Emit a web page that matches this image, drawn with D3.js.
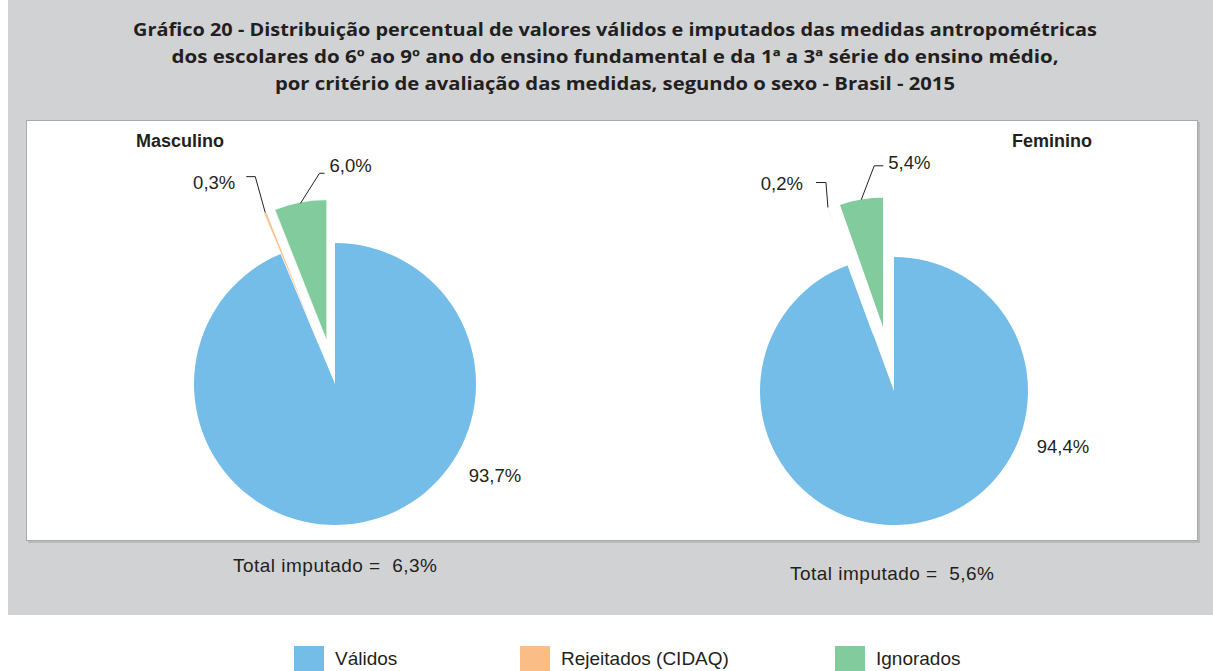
<!DOCTYPE html>
<html>
<head>
<meta charset="utf-8">
<script src="https://cdn.jsdelivr.net/npm/d3@7"></script>
<style>
  html, body { margin: 0; padding: 0; background: #ffffff; }
  svg { display: block; }
</style>
</head>
<body>
<svg id="chart" width="1213" height="671"></svg>
<script>
// ---------- DATA ----------
const categories = ["Válidos", "Rejeitados (CIDAQ)", "Ignorados"];
const masculinoValues = [93.7, 0.3, 6.0];
const femininoValues = [94.4, 0.2, 5.4];
const masculinoLabels = ["93,7%", "0,3%", "6,0%"];
const femininoLabels = ["94,4%", "0,2%", "5,4%"];
const groupNames = ["Masculino", "Feminino"];
const totalLabels = ["Total imputado =  6,3%", "Total imputado =  5,6%"];
const titleLines = [
  "Gráfico 20 - Distribuição percentual de valores válidos e imputados das medidas antropométricas",
  "dos escolares do 6º ao 9º ano do ensino fundamental e da 1ª a 3ª série do ensino médio,",
  "por critério de avaliação das medidas, segundo o sexo - Brasil - 2015"
];

// ---------- STYLE / LAYOUT ----------
const colors = ["#74bde8", "#fbbd86", "#82cb9c"];
const textColor = "#231f20";
const W = 1213, H = 671;

const svg = d3.select("#chart");

// gray background panel
svg.append("rect").attr("x", 8).attr("y", 0).attr("width", W - 8).attr("height", 615)
  .attr("fill", "#d1d2d4");
// inner white panel with shadow
svg.append("rect").attr("x", 28).attr("y", 122).attr("width", 1172).attr("height", 421)
  .attr("fill", "#b9babc");
svg.append("rect").attr("x", 26.5).attr("y", 120.5).attr("width", 1171).attr("height", 420)
  .attr("fill", "#ffffff").attr("stroke", "#a9aaac").attr("stroke-width", 1);

// title
const titleWidths = [964, 887, 680];
svg.append("g").selectAll("text").data(titleLines).join("text")
  .attr("x", 615)
  .attr("y", (d, i) => 36 + i * 27)
  .attr("text-anchor", "middle")
  .attr("font-family", "'Open Sans', 'DejaVu Sans', sans-serif")
  .attr("font-weight", "bold")
  .attr("font-size", 18)
  .attr("fill", textColor)
  .attr("textLength", (d, i) => titleWidths[i])
  .attr("lengthAdjust", "spacingAndGlyphs")
  .text(d => d);

// pies config (layout only)
const pies = [
  {
    values: masculinoValues, labels: masculinoLabels, name: groupNames[0], total: totalLabels[0],
    cx: 335, cy: 384, r: 141, explode: 44, sliceStroke: 0.6,
    nameX: 136, nameY: 147, nameAnchor: "start",
    totalX: 233, totalY: 572,
    bigLabel: { dx: 160, dy: 98 },
    leaders: [null,
      { up: [-10, -36], horiz: -9, side: "left", tdx: -11, tdy: 6 },
      { up: [19, -30], horiz: 5, side: "right", tdx: 5, tdy: -8 }]
  },
  {
    values: femininoValues, labels: femininoLabels, name: groupNames[1], total: totalLabels[1],
    cx: 894, cy: 391, r: 134, explode: 61, sliceStroke: 1.4,
    nameX: 1092, nameY: 147, nameAnchor: "end",
    totalX: 790, totalY: 580,
    bigLabel: { dx: 169, dy: 62 },
    leaders: [null,
      { up: [-2, -25], horiz: -10, side: "left", tdx: -13, tdy: 1 },
      { up: [13, -34], horiz: 9, side: "right", tdx: 5, tdy: -3 }]
  }
];

const pie = d3.pie().sort(null).value(d => d);

pies.forEach(p => {
  const g = svg.append("g").attr("transform", `translate(${p.cx},${p.cy})`);
  const arc = d3.arc().innerRadius(0).outerRadius(p.r);
  const arcs = pie(p.values);

  const offset = (d, i) => {
    if (i === 0) return [0, 0];
    const a = (d.startAngle + d.endAngle) / 2;
    return [Math.sin(a) * p.explode, -Math.cos(a) * p.explode];
  };

  g.selectAll("path").data(arcs).join("path")
    .attr("d", arc)
    .attr("transform", (d, i) => { const o = offset(d, i); return `translate(${o[0]},${o[1]})`; })
    .attr("fill", (d, i) => colors[i])
    .attr("stroke", (d, i) => i === 0 ? "none" : "#ffffff")
    .attr("stroke-width", p.sliceStroke);

  // leader lines & labels for exploded slices
  arcs.forEach((d, i) => {
    const L = p.leaders[i];
    if (!L) return;
    const a = (d.startAngle + d.endAngle) / 2;
    const o = offset(d, i);
    const rr = i === 1 ? p.r : p.r - 1;
    const x0 = o[0] + Math.sin(a) * rr, y0 = o[1] - Math.cos(a) * rr;
    const x1 = x0 + L.up[0], y1 = y0 + L.up[1];
    const x2 = x1 + L.horiz;
    g.append("path")
      .attr("d", `M${x0},${y0}L${x1},${y1}L${x2},${y1}`)
      .attr("fill", "none").attr("stroke", textColor).attr("stroke-width", 1);
    g.append("text")
      .attr("x", x2 + L.tdx)
      .attr("y", y1 + L.tdy)
      .attr("dy", "0.35em")
      .attr("text-anchor", L.side === "left" ? "end" : "start")
      .attr("font-family", "'Liberation Sans', Arial, sans-serif")
      .attr("font-size", 18.5)
      .attr("fill", textColor)
      .text(p.labels[i]);
  });

  // big slice label
  g.append("text")
    .attr("x", p.bigLabel.dx).attr("y", p.bigLabel.dy)
    .attr("text-anchor", "middle")
    .attr("font-family", "'Liberation Sans', Arial, sans-serif")
    .attr("font-size", 18.5)
    .attr("fill", textColor)
    .text(p.labels[0]);

  // group name
  svg.append("text")
    .attr("x", p.nameX).attr("y", p.nameY)
    .attr("text-anchor", p.nameAnchor)
    .attr("font-family", "'Liberation Sans', Arial, sans-serif")
    .attr("font-weight", "bold")
    .attr("font-size", 18)
    .attr("fill", textColor)
    .text(p.name);

  // total imputado
  svg.append("text")
    .attr("x", p.totalX).attr("y", p.totalY)
    .attr("font-family", "'Liberation Sans', Arial, sans-serif")
    .attr("font-size", 19)
    .attr("fill", textColor)
    .attr("textLength", 204)
    .attr("lengthAdjust", "spacing")
    .style("white-space", "pre")
    .text(p.total);
});

// legend
const legendX = [294, 520, 835];
const legend = svg.append("g").selectAll("g").data(categories).join("g")
  .attr("transform", (d, i) => `translate(${legendX[i]},646)`);
legend.append("rect").attr("width", 30).attr("height", 30).attr("fill", (d, i) => colors[i]);
legend.append("text")
  .attr("x", 41).attr("y", 19)
  .attr("font-family", "'Liberation Sans', Arial, sans-serif")
  .attr("font-size", 19)
  .attr("fill", textColor)
  .text(d => d);
</script>
</body>
</html>
